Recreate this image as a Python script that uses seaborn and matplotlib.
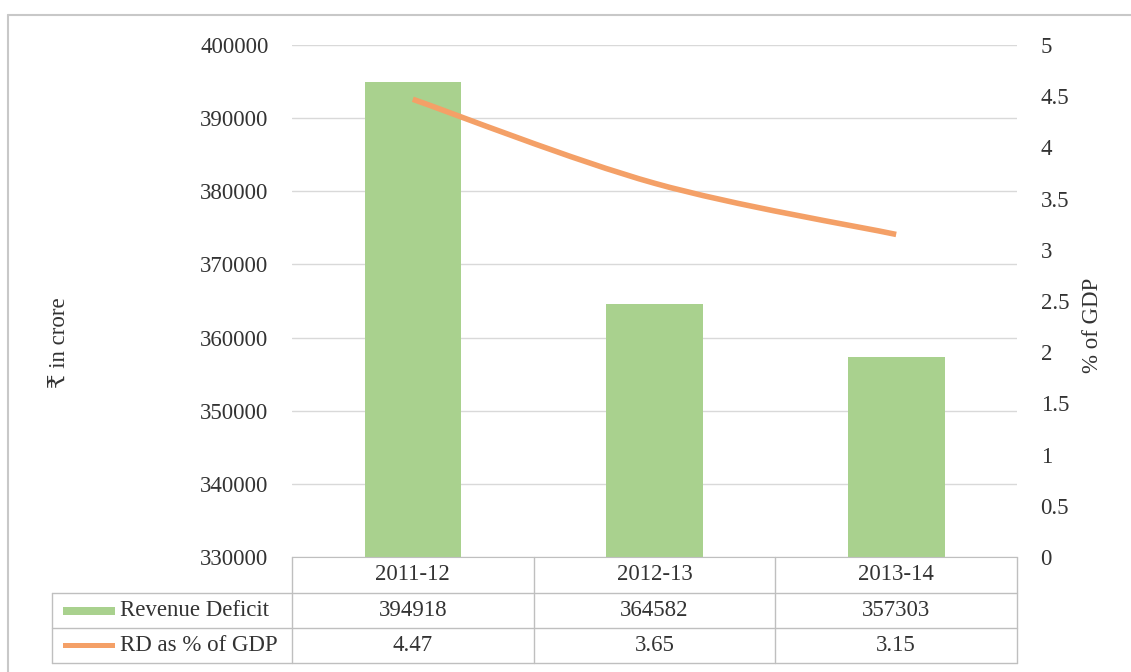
import numpy as np
import matplotlib
matplotlib.use("Agg")
import matplotlib.pyplot as plt
import matplotlib.transforms as mtransforms
from matplotlib.path import Path
from matplotlib.patches import PathPatch, Rectangle
from matplotlib.lines import Line2D
import seaborn as sns

# data
years = ["2011-12", "2012-13", "2013-14"]
revenue_deficit = [394918, 364582, 357303]
rd_pct_gdp = [4.47, 3.65, 3.15]
row_labels = ["Revenue Deficit", "RD as % of GDP"]
pct_labels = ["4.47", "3.65", "3.15"]

sns.set_style("white")
plt.rcParams["font.family"] = ["Liberation Serif", "DejaVu Serif", "DejaVu Sans"]
fs = 16.5
plt.rcParams["font.size"] = fs
txt = "#333333"
grid_c = "#D9D9D9"
line_c = "#BFBFBF"
bar_c = "#A9D18E"
orange = "#F4A067"

W, H = 1131, 672
fig = plt.figure(figsize=(W / 100, H / 100), dpi=100)
ax = fig.add_axes([292 / W, 1 - 557 / H, (1017 - 292) / W, (557 - 45) / H])

sns.barplot(x=years, y=revenue_deficit, color=bar_c, width=0.4, ax=ax, saturation=1,
            edgecolor="none", linewidth=0)
ax.set_xlim(-0.5, 2.5)
ax.set_ylim(330000, 400000)
ax.set_yticks(range(330000, 400001, 10000))
ax.yaxis.grid(True, color=grid_c, linewidth=1)
ax.set_axisbelow(True)
ax.tick_params(axis="y", length=0, pad=17, labelcolor=txt, labelsize=fs)
ax.set_xticks([])
ax.set_xlabel("")
ax.set_ylabel("")
for s in ["left", "right", "top"]:
    ax.spines[s].set_visible(False)
ax.spines["bottom"].set_color(line_c)

ax2 = ax.twinx()
ax2.set_ylim(0, 5)
ax2.set_yticks(np.arange(0, 5.01, 0.5))
ax2.set_yticklabels([f"{v:g}" for v in np.arange(0, 5.01, 0.5)])
ax2.tick_params(axis="y", length=0, pad=17, labelcolor=txt, labelsize=fs)
for s in ax2.spines.values():
    s.set_visible(False)

# smoothed line (Excel-style bezier through the points)
xs = np.arange(len(rd_pct_gdp), dtype=float)
pts = np.column_stack([xs, rd_pct_gdp])
verts = [pts[0]]
codes = [Path.MOVETO]
n = len(pts)
for i in range(n - 1):
    p_prev = pts[i - 1] if i > 0 else pts[i]
    p_next = pts[i + 2] if i + 2 < n else pts[i + 1]
    c1 = pts[i] + (pts[i + 1] - p_prev) / 6
    c2 = pts[i + 1] - (p_next - pts[i]) / 6
    verts += [c1, c2, pts[i + 1]]
    codes += [Path.CURVE4] * 3
ax2.add_patch(PathPatch(Path(verts, codes), facecolor="none", edgecolor=orange,
                        linewidth=4, capstyle="butt"))

# axis titles
fig.text(60 / W, 1 - 343 / H, "\u20b9 in crore", rotation=90, ha="center", va="center",
         color=txt, fontsize=fs)
fig.text(1093 / W, 1 - 325 / H, "% of GDP", rotation=90, ha="center", va="center",
         color=txt, fontsize=fs)

# data table under the chart
tr = mtransforms.blended_transform_factory(ax.transData, fig.transFigure)
fy = lambda p: 1 - p / H
fx = lambda p: p / W
rows_px = [557, 593, 628, 663]
for yp in rows_px[1:]:
    fig.add_artist(Line2D([fx(52), fx(1017)], [fy(yp), fy(yp)], color=line_c, lw=1))
fig.add_artist(Line2D([fx(52), fx(52)], [fy(593), fy(663)], color=line_c, lw=1))
for xe in [-0.5, 0.5, 1.5, 2.5]:
    ax.add_artist(Line2D([xe, xe], [fy(557), fy(663)], color=line_c, lw=1,
                         transform=tr, clip_on=False))

for i, yr in enumerate(years):
    ax.text(i, fy(575), yr, transform=tr, ha="center", va="center", color=txt, fontsize=fs)
    ax.text(i, fy(610.5), f"{revenue_deficit[i]}", transform=tr, ha="center", va="center",
            color=txt, fontsize=fs)
    ax.text(i, fy(645.5), pct_labels[i], transform=tr, ha="center", va="center",
            color=txt, fontsize=fs)

fig.add_artist(Rectangle((fx(63), fy(614.5)), fx(52), 8 / H, color=bar_c, lw=0))
fig.add_artist(Rectangle((fx(63), fy(648)), fx(52), 5 / H, color=orange, lw=0))
fig.text(fx(120), fy(610.5), row_labels[0], ha="left", va="center", color=txt, fontsize=fs)
fig.text(fx(120), fy(645.5), row_labels[1], ha="left", va="center", color=txt, fontsize=fs)

# outer frame (top and left edges)
fig.add_artist(Line2D([fx(8), 1], [fy(15), fy(15)], color="#C8C8C8", lw=1.5))
fig.add_artist(Line2D([fx(8), fx(8)], [fy(15), 0], color="#C8C8C8", lw=1.5))

fig.savefig("out.png", dpi=100)
